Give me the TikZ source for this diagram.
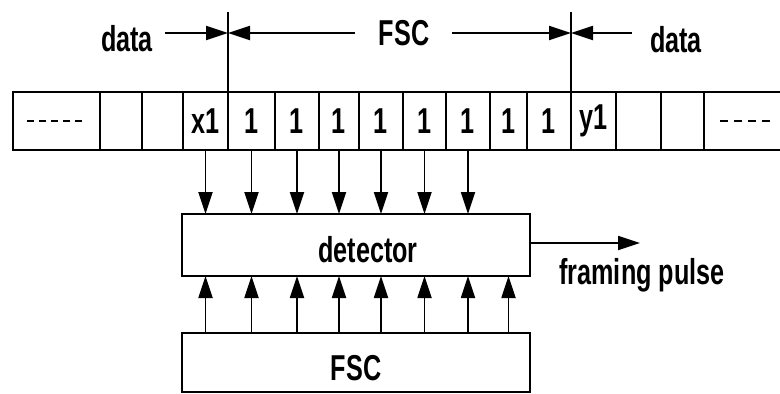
\documentclass[tikz,border=0pt]{standalone}
\usepackage{fontspec}
\setmainfont{Liberation Sans}[FakeStretch=0.7]
\usetikzlibrary{arrows.meta,positioning}

\begin{document}
\begin{tikzpicture}[
    x=1pt, y=-1pt,
    every node/.style={font=\fontsize{36}{40}\selectfont\bfseries},
    cell/.style={draw, line width=1.8pt, inner sep=0pt, outer sep=0pt, minimum height=58pt},
    box/.style={draw, line width=1.8pt, inner sep=0pt, outer sep=0pt, minimum width=348pt, minimum height=62pt},
    line/.style={line width=1.8pt},
    arrow/.style={line width=1.8pt, -{Triangle[length=22pt,width=14pt]}},
    dash line/.style={line width=1.8pt, dash pattern=on 7pt off 5pt}
]
\useasboundingbox (0,0) rectangle (780,394);

% Register cells
\foreach \l/\r/\txt [count=\i] in {13/100/{},100/142/{},142/183/{},183/228/x1,
    228/275/1,275/319/1,319/359/1,359/403/1,403/446/1,446/490/1,490/527/1,527/571/1,
    571/616/y1,616/661/{},661/704/{}}
  \node[cell, minimum width={(\r-\l)*1pt}] (c\i) at ({(\l+\r)/2},121) {\txt};
\node[cell, draw=none, minimum width=76pt] (c16) at (742,121) {};
\draw[line] (c16.north west) -- (c16.north east);
\draw[line] (c16.south west) -- (c16.south east);

% Dashes in the end cells
\draw[dash line] ([xshift=14pt]c1.west) -- ([xshift=-17pt]c1.east);
\draw[dash line, dash pattern=on 8pt off 6pt] ([xshift=16pt]c16.west) -- ([xshift=-10pt]c16.east);

% FSC limits
\coordinate (fa) at (228,12);
\coordinate (fb) at (571,12);
\draw[line] (fa) -- (c5.north west);
\draw[line] (fb) -- (c13.north west);

% Labels above
\node[anchor=base] (dl) at (127,51) {data};
\node[anchor=base] (fl) at (404,45) {FSC};
\node[anchor=base] (dr) at (676,52) {data};
\coordinate (t1) at (165,33);
\coordinate (t2) at (355,33);
\coordinate (t3) at (452,33);
\coordinate (t4) at (632,33);
\draw[arrow] (t1) -- (t1 -| fa);
\draw[arrow] (t2) -- (t2 -| fa);
\draw[arrow] (t3) -- (t3 -| fb);
\draw[arrow] (t4) -- (t4 -| fb);

% Detector and FSC boxes
\node[box] (det) at (356,245) {};
\node[anchor=base] (dett) at (368,262) {detector};
\node[box, minimum height=59pt] (fsc) at (356,362.5) {};
\node[anchor=base] (fsct) at (356,380) {FSC};

\foreach \i in {4,...,10}
  \draw[arrow] (c\i.south) -- (c\i.south |- det.north);
\foreach \i in {4,...,11}
  \draw[arrow] (fsc.north -| c\i) -- (det.south -| c\i);

% Output
\coordinate (fp) at (640,243);
\draw[arrow] (det.east |- fp) -- (fp);
\node[anchor=base] (fpl) at (642,284) {framing pulse};

\end{tikzpicture}
\end{document}
